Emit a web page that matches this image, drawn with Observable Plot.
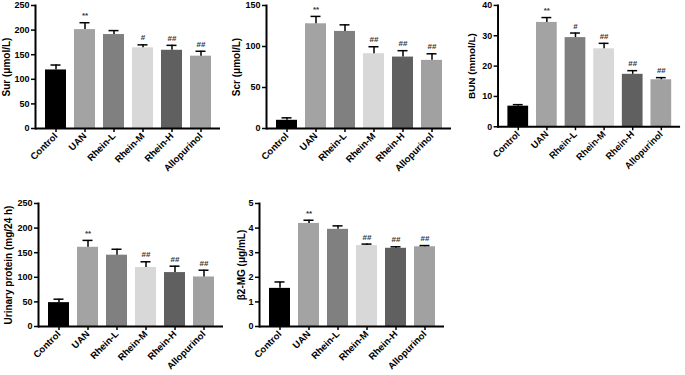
<!DOCTYPE html>
<html>
<head>
<meta charset="utf-8">
<script src="https://cdn.jsdelivr.net/npm/d3@7"></script>
<script src="https://cdn.jsdelivr.net/npm/@observablehq/plot@0.6"></script>
<style>
  html, body { margin: 0; padding: 0; background: #fff; }
  #fig { position: relative; width: 685px; height: 375px; overflow: hidden; background: #fff; }
  .panel { position: absolute; }
</style>
</head>
<body>
<div id="fig"></div>
<script>
const groups = ["Control", "UAN", "Rhein-L", "Rhein-M", "Rhein-H", "Allopurinol"];
const barColors = ["#000000", "#a3a3a3", "#808080", "#d8d8d8", "#606060", "#a1a1a1"];

const surMean = [119, 201, 191, 164, 159, 147];
const surErr  = [10, 14, 8, 6, 10, 10];
const surSig  = ["", "**", "", "#", "##", "##"];
const surTicks = [0, 50, 100, 150, 200, 250];

const scrMean = [10, 127.7, 118.4, 91.2, 87.1, 83.1];
const scrErr  = [3, 9, 8, 8.5, 7.8, 8];
const scrSig  = ["", "**", "", "##", "##", "##"];
const scrTicks = [0, 50, 100, 150];

const bunMean = [6.8, 34.4, 29.4, 25.7, 17.3, 15.5];
const bunErr  = [0.5, 1.6, 1.5, 1.8, 1.2, 0.7];
const bunSig  = ["", "**", "#", "##", "##", "##"];
const bunTicks = [0, 10, 20, 30, 40];

const upMean = [48.5, 161, 145, 120, 109.6, 100.7];
const upErr  = [7, 14, 12, 11.5, 13, 13.7];
const upSig  = ["", "**", "", "##", "##", "##"];
const upTicks = [0, 50, 100, 150, 200, 250];

const b2Mean = [1.55, 4.19, 3.95, 3.29, 3.18, 3.24];
const b2Err  = [0.26, 0.13, 0.14, 0.06, 0.06, 0.05];
const b2Sig  = ["", "**", "", "##", "##", "##"];
const b2Ticks = [0, 1, 2, 3, 4, 5];

const panels = [
  {mean: surMean, err: surErr, sig: surSig, ticks: surTicks, label: "Sur (μmol/L)", left: 0, top: 0, labelOffset: 33},
  {mean: scrMean, err: scrErr, sig: scrSig, ticks: scrTicks, label: "Scr (μmol/L)", left: 231, top: 0, labelOffset: 34},
  {mean: bunMean, err: bunErr, sig: bunSig, ticks: bunTicks, label: "BUN (mmol/L)", left: 463, top: 0, labelOffset: 30},
  {mean: upMean, err: upErr, sig: upSig, ticks: upTicks, label: "Urinary protein (mg/24 h)", left: 3, top: 198, labelOffset: 34},
  {mean: b2Mean, err: b2Err, sig: b2Sig, ticks: b2Ticks, label: "β2-MG (μg/mL)", left: 224, top: 198, labelOffset: 22}
];

const fig = document.getElementById("fig");
const font = "'Liberation Sans', Arial, Helvetica, sans-serif";

for (const p of panels) {
  const data = groups.map((g, i) => ({group: g, value: p.mean[i], err: p.err[i], sig: p.sig[i]}));
  const yMax = p.ticks[p.ticks.length - 1];
  const chart = Plot.plot({
    width: 225,
    height: 178,
    marginLeft: 35,
    marginRight: 5,
    marginTop: 5,
    marginBottom: 50,
    style: {fontFamily: font, fontWeight: "bold", color: "#000", background: "transparent", overflow: "visible"},
    x: {domain: groups, padding: 0.28},
    y: {domain: [0, yMax]},
    color: {domain: groups, range: barColors},
    marks: [
      Plot.barY(data, {x: "group", y: "value", fill: "group"}),
      Plot.ruleX(data, {x: "group", y1: "value", y2: d => d.value + d.err, stroke: "#000", strokeWidth: 1.5}),
      Plot.tickY(data, {x: "group", y: d => d.value + d.err, stroke: "#000", strokeWidth: 1.5, insetLeft: 5.5, insetRight: 5.5}),
      Plot.text(data.filter(d => d.sig), {x: "group", y: d => d.value + d.err, text: "sig", dy: -7, fontSize: 8, fill: "#333", lineAnchor: "middle"}),
      Plot.axisY(p.ticks, {tickSize: 4, tickPadding: 2, strokeWidth: 1.5, fontSize: 9, fontWeight: "bold",
        label: p.label, labelAnchor: "center", labelArrow: "none", labelOffset: p.labelOffset}),
      Plot.axisX({tickSize: 4, tickPadding: 2, strokeWidth: 1.5, tickRotate: -45, fontSize: 9.5, fontWeight: "bold", label: null}),
      Plot.frame({anchor: "left", strokeWidth: 2}),
      Plot.ruleY([0], {strokeWidth: 2})
    ]
  });
  chart.querySelectorAll("text").forEach(t => t.setAttribute("font-weight", "bold"));
  chart.querySelectorAll("[aria-label='y-axis label'] text, g[aria-label='y-axis label']").forEach(t => t.setAttribute("font-size", "10"));
  const div = document.createElement("div");
  div.className = "panel";
  div.style.left = p.left + "px";
  div.style.top = p.top + "px";
  div.appendChild(chart);
  fig.appendChild(div);
}
</script>
</body>
</html>
